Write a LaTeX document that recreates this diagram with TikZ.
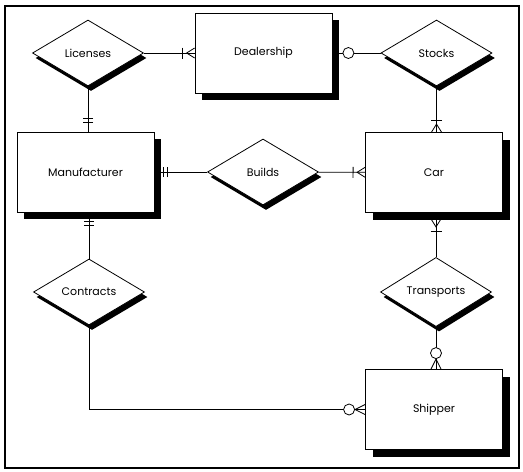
\documentclass[tikz,border=0pt]{standalone}
\usepackage{fontspec}
\setmainfont{Poppins}
\usetikzlibrary{shapes.geometric,shadows,decorations.markings}
\tikzset{
  one/.style={postaction={decorate},decoration={markings,
      mark=at position 9pt with {\draw (0,-5pt)--(0,5pt);},
      mark=at position 13pt with {\draw (0,-5pt)--(0,5pt);}}},
  many/.style={postaction={decorate},decoration={markings,
      mark=at position 8pt with {\draw (-8pt,5pt)--(0,0)--(-8pt,-5pt);},
      mark=at position 12pt with {\draw (0,-5.5pt)--(0,5.5pt);}}},
  zmany/.style={postaction={decorate},decoration={markings,
      mark=at position 10pt with {\draw (-10pt,5pt)--(0,0)--(-10pt,-5pt);},
      mark=at position 16pt with {\draw[fill=white] (0,0) circle (5.5pt);}}},
  zone/.style={postaction={decorate},decoration={markings,
      mark=at position 16pt with {\draw[fill=white] (0,0) circle (5.5pt);}}}
}
\begin{document}
\begin{tikzpicture}[x=1pt,y=-1pt,line width=.8pt,font=\fontsize{11}{13}\selectfont,
    entity/.style={draw,fill=white,minimum width=137pt,minimum height=80pt,inner sep=0pt,
      drop shadow={shadow xshift=7pt,shadow yshift=-7pt,fill=black,opacity=1}},
    rel/.style={diamond,draw,fill=white,minimum width=111pt,minimum height=66pt,inner sep=0pt,
      drop shadow={shadow xshift=3pt,shadow yshift=-5pt,fill=black,opacity=1}}]
  \useasboundingbox (0,0) rectangle (523,472);
  \draw[line width=2pt] (5,6) rectangle (519,468);
  \node[entity] (dlr) at (263.5,53) {Dealership};
  \node[entity] (man) at (85.5,172) {Manufacturer};
  \node[entity] (car) at (434,172.5) {Car};
  \node[entity] (shp) at (434,409.5) {Shipper};
  \node[rel] (lic) at (88,53) {Licenses};
  \node[rel] (stk) at (436.5,53) {Stocks};
  \node[rel] (bld) at (263,172) {Builds};
  \node[rel] (con) at (89,292) {Contracts};
  \node[rel] (trn) at (436,292) {Transports};
  \draw[many] (dlr) -- (lic);
  \draw[one] (man.north -| lic.south) -- (lic.south);
  \draw[zone] (dlr) -- (stk);
  \draw[many] (car.north -| stk.south) -- (stk.south);
  \draw[one] (man) -- (bld);
  \draw[many] (car) -- (bld);
  \draw[one] (man.south -| con.north) -- (con.north);
  \draw[many] ([yshift=-6pt]car.south -| trn.north) -- (trn.north);
  \draw[zmany] (shp.north -| trn.south) -- (trn.south);
  \draw[zmany] (shp.west) -| (con.south);
\end{tikzpicture}
\end{document}
